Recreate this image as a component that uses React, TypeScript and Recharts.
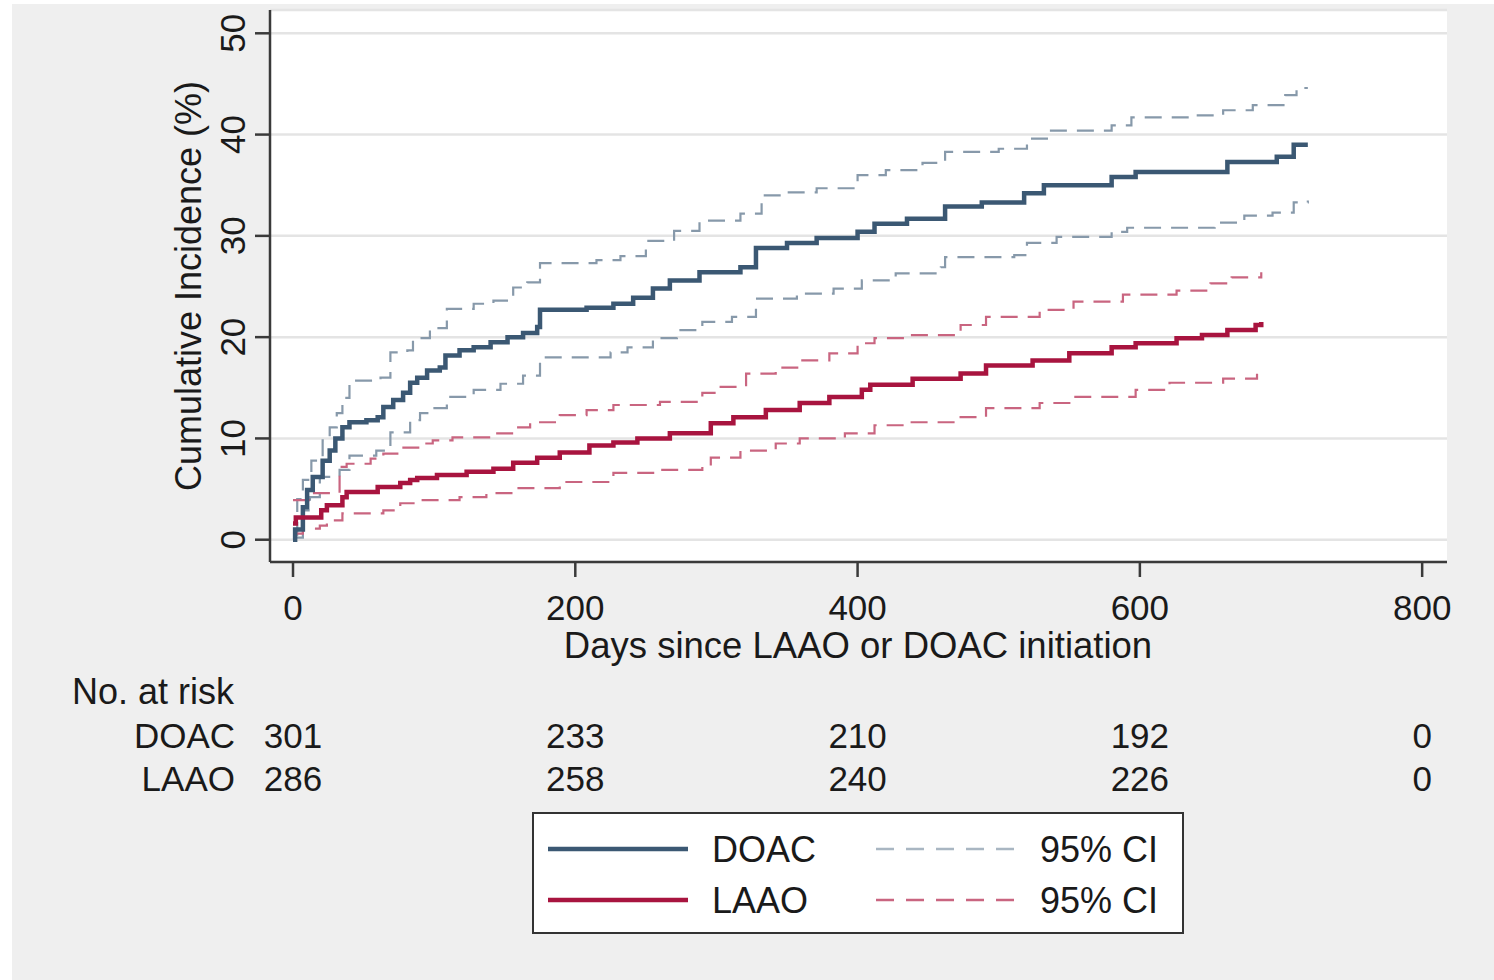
import React from 'react';
import { LineChart, Line, XAxis, YAxis, CartesianGrid } from 'recharts';

const xTicks = [0, 200, 400, 600, 800];
const yTicks = [0, 10, 20, 30, 40, 50];
const riskGroups = ['DOAC', 'LAAO'];
const doacAtRisk = [301, 233, 210, 192, 0];
const laaoAtRisk = [286, 258, 240, 226, 0];

const doacDays = [0, 1.5, 7, 10, 14, 21, 26, 30, 35, 40, 52, 60, 64, 71, 78, 83, 88, 95, 104, 108, 118, 128, 140, 152, 163, 173, 175, 208, 227, 241, 255, 267, 288, 317, 328, 350, 371, 400, 412, 435, 462, 488, 518, 532, 580, 597, 662, 697, 709, 719];
const doacValues = [0, 1.0, 3.2, 4.9, 6.2, 7.8, 8.8, 10.0, 11.1, 11.6, 11.8, 12.1, 13.1, 13.8, 14.5, 15.5, 16.0, 16.7, 17.0, 18.2, 18.7, 19.0, 19.5, 20.0, 20.4, 21.0, 22.7, 22.9, 23.3, 23.9, 24.8, 25.6, 26.4, 26.9, 28.8, 29.3, 29.8, 30.4, 31.2, 31.7, 32.9, 33.3, 34.2, 35.0, 35.8, 36.3, 37.3, 37.8, 39.0, 39.0];

const doacUpperDays = [0, 3, 7, 13, 21, 26, 31, 35, 40, 62, 69, 81, 85, 97, 109, 128, 142, 156, 166, 175, 215, 232, 250, 270, 288, 317, 332, 350, 371, 400, 420, 446, 462, 500, 520, 535, 580, 594, 636, 659, 680, 703, 711, 719];
const doacUpperValues = [0.5, 4.0, 5.9, 7.8, 9.8, 11.1, 12.5, 14.0, 15.7, 16.0, 18.5, 18.7, 19.9, 20.9, 22.8, 23.3, 23.6, 24.9, 25.4, 27.3, 27.6, 28.0, 29.5, 30.5, 31.5, 32.2, 34.0, 34.3, 34.7, 36.0, 36.5, 37.2, 38.3, 38.6, 39.6, 40.4, 40.9, 41.7, 41.9, 42.4, 42.9, 43.9, 44.6, 44.6];

const doacLowerDays = [0, 7, 12, 19, 33, 40, 59, 69, 83, 90, 99, 109, 128, 147, 163, 175, 225, 237, 255, 272, 290, 311, 328, 357, 383, 403, 427, 459, 462, 511, 520, 541, 580, 591, 653, 674, 694, 709, 719];
const doacLowerValues = [0.2, 2.9, 4.2, 6.2, 6.9, 8.3, 8.8, 10.6, 11.8, 12.5, 13.0, 14.1, 14.8, 15.4, 16.2, 18.0, 18.5, 19.0, 19.9, 20.7, 21.5, 22.0, 23.8, 24.3, 24.8, 25.6, 26.3, 26.9, 27.9, 28.1, 29.3, 29.9, 30.4, 30.8, 31.3, 32.0, 32.3, 33.3, 33.5];

const laaoDays = [0, 2, 20, 24, 35, 38, 60, 76, 83, 88, 102, 123, 142, 156, 173, 189, 210, 227, 244, 267, 296, 312, 335, 359, 380, 403, 409, 439, 473, 491, 524, 550, 580, 597, 626, 644, 662, 682, 686];
const laaoValues = [1.6, 2.2, 2.9, 3.4, 4.2, 4.7, 5.2, 5.6, 5.9, 6.1, 6.4, 6.7, 7.0, 7.6, 8.1, 8.6, 9.3, 9.6, 10.0, 10.5, 11.5, 12.1, 12.8, 13.5, 14.1, 14.8, 15.3, 15.9, 16.4, 17.2, 17.7, 18.4, 19.0, 19.4, 19.9, 20.2, 20.7, 21.2, 21.5];

const laaoUpperDays = [0, 14, 33, 38, 55, 64, 76, 90, 99, 113, 140, 156, 168, 189, 208, 227, 260, 290, 300, 321, 342, 359, 380, 400, 412, 435, 473, 491, 529, 553, 588, 626, 650, 665, 686];
const laaoUpperValues = [3.9, 4.6, 7.2, 7.5, 8.0, 8.5, 9.1, 9.5, 9.8, 10.1, 10.5, 11.1, 11.6, 12.3, 12.8, 13.3, 13.6, 14.5, 15.1, 16.4, 17.0, 17.7, 18.4, 19.4, 19.9, 20.2, 21.2, 22.0, 22.7, 23.5, 24.2, 24.6, 25.3, 25.9, 26.4];

const laaoLowerDays = [0, 7, 19, 24, 35, 64, 76, 90, 118, 137, 156, 189, 227, 260, 290, 296, 317, 342, 359, 391, 412, 435, 470, 491, 529, 550, 597, 621, 659, 683];
const laaoLowerValues = [0.6, 1.1, 1.4, 1.9, 2.6, 2.9, 3.6, 3.9, 4.2, 4.6, 5.1, 5.7, 6.6, 6.9, 7.2, 8.1, 8.8, 9.5, 10.0, 10.5, 11.3, 11.6, 12.1, 13.0, 13.5, 14.1, 14.8, 15.5, 15.9, 16.4];

const toSeries = (days: number[], values: number[]) => days.map((d, i) => ({ day: d, v: values[i] }));

const FONT = '"Liberation Sans", Arial, sans-serif';
const TEXT = '#1a1a1a';
const DOAC_COLOR = '#3b5873';
const DOAC_CI = '#8799aa';
const LAAO_COLOR = '#a8143f';
const LAAO_CI = '#c96580';
const DASH = '17 10';

const YTick = (props: any) => {
  const { y, payload } = props;
  const cx = 232;
  return (
    <text
      x={cx}
      y={y}
      dy="0.36em"
      transform={`rotate(-90, ${cx}, ${y})`}
      textAnchor="middle"
      fontSize={35}
      fontFamily={FONT}
      fill={TEXT}
    >
      {payload.value}
    </text>
  );
};

const XTick = (props: any) => {
  const { x, payload } = props;
  const idx = xTicks.indexOf(payload.value);
  return (
    <g fontFamily={FONT} fill={TEXT} fontSize={35} textAnchor="middle">
      <text x={x} y={620}>{payload.value}</text>
      <text x={x} y={748}>{doacAtRisk[idx]}</text>
      <text x={x} y={791}>{laaoAtRisk[idx]}</text>
    </g>
  );
};

export default function App() {
  const doac = toSeries(doacDays, doacValues);
  const doacU = toSeries(doacUpperDays, doacUpperValues);
  const doacL = toSeries(doacLowerDays, doacLowerValues);
  const laao = toSeries(laaoDays, laaoValues);
  const laaoU = toSeries(laaoUpperDays, laaoUpperValues);
  const laaoL = toSeries(laaoLowerDays, laaoLowerValues);

  return (
    <div style={{ position: 'absolute', left: 0, top: 0, width: 1494, height: 980, background: '#ffffff', overflow: 'hidden' }}>
      <div style={{ position: 'absolute', left: 12, top: 4, right: 0, bottom: 0, background: '#efefef' }} />
      <div style={{ position: 'absolute', left: 0, top: 0 }}>
        <LineChart width={1494} height={980} margin={{ top: 10, right: 47, left: 170, bottom: 358 }}>
          <CartesianGrid vertical={false} horizontal={true} fill="#ffffff" stroke="#e4e4e4" strokeWidth={2.5} />
          <XAxis
            dataKey="day"
            type="number"
            domain={[-16.3, 817.6]}
            ticks={xTicks}
            allowDataOverflow
            height={60}
            tickSize={15}
            axisLine={{ stroke: '#3a3a3a', strokeWidth: 2.5 }}
            tickLine={{ stroke: '#3a3a3a', strokeWidth: 2.5 }}
            tick={<XTick />}
            interval={0}
          />
          <YAxis
            type="number"
            domain={[-2.2, 52.3]}
            ticks={yTicks}
            allowDataOverflow
            width={100}
            tickSize={15}
            axisLine={{ stroke: '#3a3a3a', strokeWidth: 2.5 }}
            tickLine={{ stroke: '#3a3a3a', strokeWidth: 2.5 }}
            tick={<YTick />}
            interval={0}
          />
          <Line data={doacU} dataKey="v" type="stepAfter" stroke={DOAC_CI} strokeWidth={2.2} strokeDasharray={DASH} dot={false} activeDot={false} isAnimationActive={false} />
          <Line data={doacL} dataKey="v" type="stepAfter" stroke={DOAC_CI} strokeWidth={2.2} strokeDasharray={DASH} dot={false} activeDot={false} isAnimationActive={false} />
          <Line data={laaoU} dataKey="v" type="stepAfter" stroke={LAAO_CI} strokeWidth={2.2} strokeDasharray={DASH} dot={false} activeDot={false} isAnimationActive={false} />
          <Line data={laaoL} dataKey="v" type="stepAfter" stroke={LAAO_CI} strokeWidth={2.2} strokeDasharray={DASH} dot={false} activeDot={false} isAnimationActive={false} />
          <Line data={doac} dataKey="v" type="stepAfter" stroke={DOAC_COLOR} strokeWidth={4.5} dot={false} activeDot={false} isAnimationActive={false} />
          <Line data={laao} dataKey="v" type="stepAfter" stroke={LAAO_COLOR} strokeWidth={4.5} dot={false} activeDot={false} isAnimationActive={false} />
          <text x={188} y={286} dy="0.36em" transform="rotate(-90, 188, 286)" textAnchor="middle" fontSize={36} fontFamily={FONT} fill={TEXT}>
            Cumulative Incidence (%)
          </text>
          <text x={858} y={658} textAnchor="middle" fontSize={36.5} fontFamily={FONT} fill={TEXT}>
            Days since LAAO or DOAC initiation
          </text>
          <text x={72} y={704} fontSize={36} fontFamily={FONT} fill={TEXT}>No. at risk</text>
          <text x={235} y={748} textAnchor="end" fontSize={35} fontFamily={FONT} fill={TEXT}>{riskGroups[0]}</text>
          <text x={235} y={791} textAnchor="end" fontSize={35} fontFamily={FONT} fill={TEXT}>{riskGroups[1]}</text>
        </LineChart>
      </div>
      <div style={{ position: 'absolute', left: 532, top: 812, width: 648, height: 118, background: '#ffffff', border: '2px solid #333', fontFamily: FONT, color: TEXT, fontSize: 36 }}>
        <svg width={648} height={118} style={{ position: 'absolute', left: 0, top: 0 }}>
          <line x1={14} x2={154} y1={35} y2={35} stroke={DOAC_COLOR} strokeWidth={4.5} />
          <line x1={14} x2={154} y1={86} y2={86} stroke={LAAO_COLOR} strokeWidth={4.5} />
          <line x1={342} x2={484} y1={35} y2={35} stroke="#a9b6c2" strokeWidth={2.5} strokeDasharray="18 12" />
          <line x1={342} x2={484} y1={86} y2={86} stroke={LAAO_CI} strokeWidth={2.5} strokeDasharray="18 12" />
          <text x={178} y={48} fontSize={36} fontFamily={FONT} fill={TEXT}>DOAC</text>
          <text x={178} y={99} fontSize={36} fontFamily={FONT} fill={TEXT}>LAAO</text>
          <text x={506} y={48} fontSize={36} fontFamily={FONT} fill={TEXT}>95% CI</text>
          <text x={506} y={99} fontSize={36} fontFamily={FONT} fill={TEXT}>95% CI</text>
        </svg>
      </div>
    </div>
  );
}
